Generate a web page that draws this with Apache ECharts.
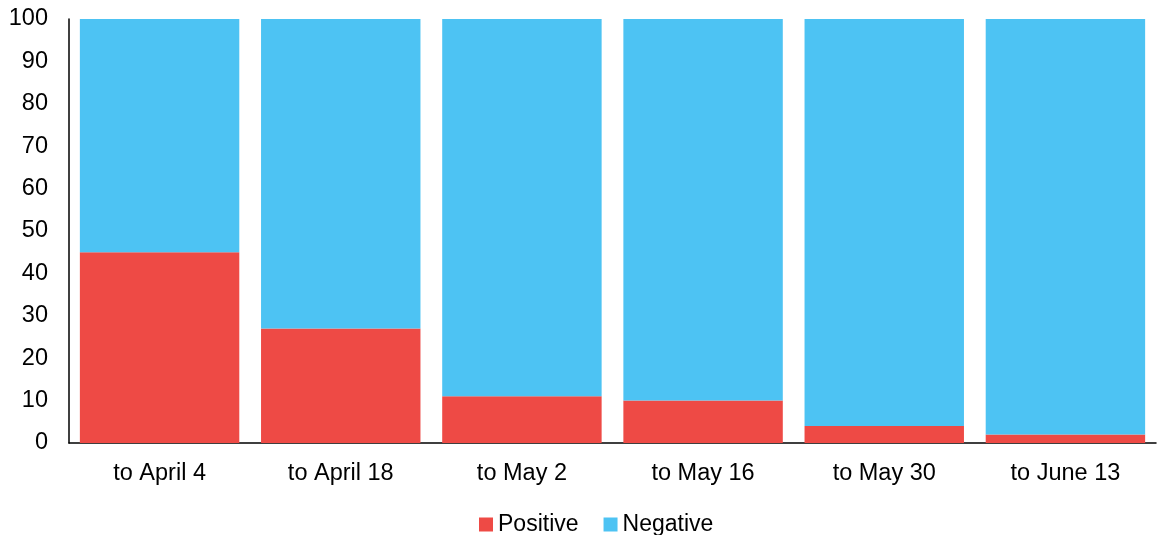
<!DOCTYPE html>
<html><head><meta charset="utf-8">
<script src="https://cdn.jsdelivr.net/npm/echarts@6/dist/echarts.min.js"></script>
<style>html,body{margin:0;padding:0;background:#fff}#c{width:1157px;height:535px}</style>
</head><body><div id="c"></div>
<script>
const categories = ["to April 4","to April 18","to May 2","to May 16","to May 30","to June 13"];
const positive = [45, 27, 11, 10, 4, 2];
const negative = [55, 73, 89, 90, 96, 98];
const yTicks = [0,10,20,30,40,50,60,70,80,90,100];

const chart = echarts.init(document.getElementById('c'));
const font = '"Liberation Sans", Arial, sans-serif';
chart.setOption({
  animation: false,
  grid: {left: 69, right: 1, top: 19, bottom: 92, containLabel: false},
  legend: {
    top: 508, left: 474, itemWidth: 14, itemHeight: 14, itemGap: 25,
    icon: 'rect',
    textStyle: {fontFamily: font, fontSize: 23, color: '#000'},
    data: ['Positive','Negative']
  },
  xAxis: {
    type: 'category', data: categories,
    axisLine: {lineStyle: {color: '#000', width: 1.5}},
    axisTick: {show: false},
    axisLabel: {fontFamily: font, fontSize: 23.5, color: '#000', margin: 19}
  },
  yAxis: {
    type: 'value', min: 0, max: 100, interval: 10,
    axisLine: {show: true, lineStyle: {color: '#000', width: 1.5}},
    axisTick: {show: false},
    splitLine: {show: false},
    axisLabel: {fontFamily: font, fontSize: 23.5, color: '#000', margin: 21,
      padding: [4, 0, 0, 0],
      formatter: v => yTicks.includes(v) ? String(v) : ''}
  },
  series: [
    {name: 'Positive', type: 'bar', stack: 's', data: positive, barCategoryGap: '12%',
     itemStyle: {color: '#EE4A45'}},
    {name: 'Negative', type: 'bar', stack: 's', data: negative, barCategoryGap: '12%',
     itemStyle: {color: '#4DC3F3'}}
  ]
});
</script></body></html>
